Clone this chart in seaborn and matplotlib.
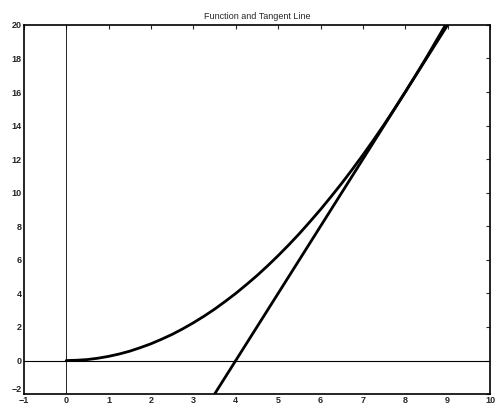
import numpy as np
import pandas as pd
import matplotlib
matplotlib.use("Agg")
import matplotlib.pyplot as plt
import seaborn as sns

# Values
curve_x = [0, 0.25, 0.5, 0.75, 1, 1.25, 1.5, 1.75, 2, 2.25, 2.5, 2.75, 3, 3.25,
           3.5, 3.75, 4, 4.25, 4.5, 4.75, 5, 5.25, 5.5, 5.75, 6, 6.25, 6.5,
           6.75, 7, 7.25, 7.5, 7.75, 8, 8.25, 8.5, 8.75, 8.95]
curve_y = [0, 0.02, 0.06, 0.14, 0.25, 0.39, 0.56, 0.77, 1.0, 1.27, 1.56, 1.89,
           2.25, 2.64, 3.06, 3.52, 4.0, 4.52, 5.06, 5.64, 6.25, 6.89, 7.56,
           8.27, 9.0, 9.77, 10.56, 11.39, 12.25, 13.14, 14.06, 15.02, 16.0,
           17.02, 18.06, 19.14, 20.0]
tangent_x = [3.5, 9.0]
tangent_y = [-2, 20]
x_ticks = list(range(-1, 11))
y_ticks = list(range(-2, 21, 2))
title = "Function and Tangent Line"


def main():
    sns.set_style("white")
    plt.rcParams['font.family'] = ['Liberation Sans', 'DejaVu Sans']

    fig = plt.figure(figsize=(4.96, 4.08), dpi=100)
    ax = fig.add_axes([0.048, 0.034, 0.94, 0.905])

    # axis lines through the origin
    ax.axhline(0, color="black", lw=0.8, zorder=1)
    ax.axvline(0, color="black", lw=0.6, zorder=1)

    curve = pd.DataFrame({"x": curve_x, "y": curve_y})
    tangent = pd.DataFrame({"x": tangent_x, "y": tangent_y})
    sns.lineplot(data=curve, x="x", y="y", color="black", lw=2.0, sort=False, ax=ax)
    sns.lineplot(data=tangent, x="x", y="y", color="black", lw=2.0, sort=False, ax=ax)

    ax.set_xlim(-1, 10)
    ax.set_ylim(-2, 20)
    ax.set_xticks(x_ticks)
    ax.set_yticks(y_ticks)
    ax.set_xlabel("")
    ax.set_ylabel("")
    ax.tick_params(direction="in", length=3, width=0.8, top=True, right=True,
                   labelsize=6.5, pad=1.5)
    for lab in ax.get_xticklabels() + ax.get_yticklabels():
        lab.set_fontweight("bold")
    # lift the bottom y label off the corner so it clears the "-1" below
    ax.get_yticklabels()[0].set_verticalalignment("bottom")

    for sp in ax.spines.values():
        sp.set_visible(True)
        sp.set_color("black")
        sp.set_linewidth(1.2)

    ax.set_title(title, fontsize=6.5, pad=4)

    fig.savefig("out.png", dpi=100)
    plt.close(fig)


if __name__ == "__main__":
    main()
